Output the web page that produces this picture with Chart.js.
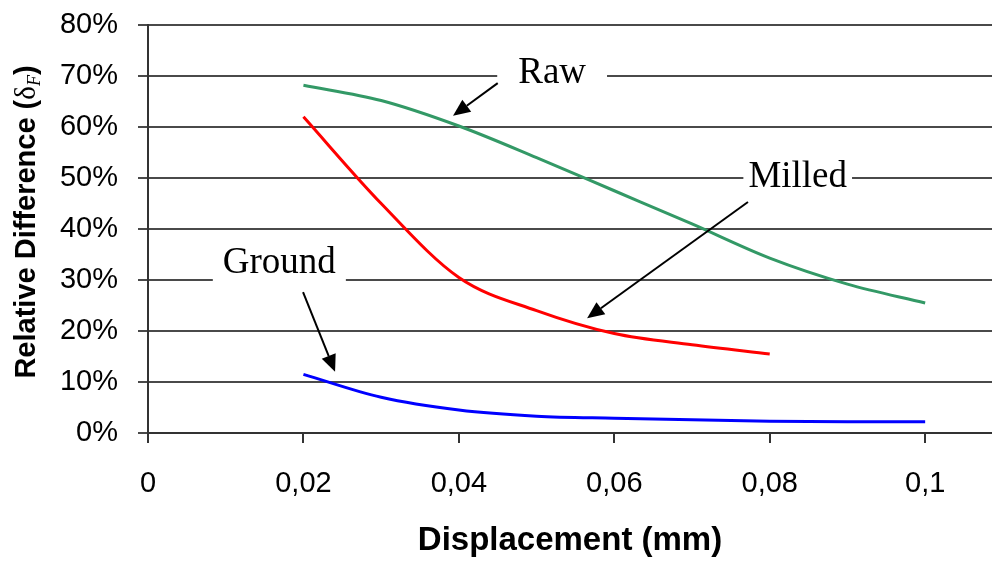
<!DOCTYPE html>
<html>
<head>
<meta charset="utf-8">
<script src="https://cdn.jsdelivr.net/npm/chart.js@4/dist/chart.umd.min.js"></script>
<style>
  html, body { margin: 0; padding: 0; background: #fff; overflow: hidden; }
  canvas { display: block; }
</style>
</head>
<body>
<canvas id="chart" width="992" height="561"></canvas>
<script>
// Displacement (mm) and relative difference (%) for each surface finish
const displacementRaw = [0.02, 0.03, 0.04, 0.05, 0.06, 0.07, 0.08, 0.09, 0.10];
const rawValues       = [68.2, 65.2, 60.2, 54.0, 47.5, 41.0, 34.3, 29.2, 25.5];

const displacementMilled = [0.02, 0.03, 0.04, 0.05, 0.06, 0.07, 0.08];
const milledValues       = [62.0, 45.0, 30.5, 24.0, 19.5, 17.3, 15.5];

const displacementGround = [0.02, 0.03, 0.04, 0.05, 0.06, 0.07, 0.08, 0.09, 0.10];
const groundValues       = [11.5, 7.0, 4.5, 3.3, 2.9, 2.6, 2.3, 2.2, 2.2];

// Axis tick values
const xTickValues = [0, 0.02, 0.04, 0.06, 0.08, 0.10];
const yTickValues = [0, 10, 20, 30, 40, 50, 60, 70, 80];

const toPoints = (xs, ys) => xs.map((x, i) => ({ x: x, y: ys[i] }));

// Callout labels with arrows, placed in data units
const callouts = [
  { text: 'Raw',    x: 0.0520, y: 68.6, pad: 21, from: [0.0450, 68.6], to: [0.03925, 62.2] },
  { text: 'Milled', x: 0.0836, y: 48.2, pad: 5,  from: [0.0772, 45.3], to: [0.0565, 22.5] },
  { text: 'Ground', x: 0.0169, y: 31.4, pad: 10, from: [0.01995, 27.6], to: [0.02407, 12.0] }
];

const calloutPlugin = {
  id: 'callouts',
  afterDatasetsDraw(chart) {
    const { ctx, scales: { x, y } } = chart;
    ctx.save();
    ctx.font = '37px "Liberation Serif", "Times New Roman", serif';
    ctx.textAlign = 'center';
    ctx.textBaseline = 'alphabetic';
    callouts.forEach(c => {
      const px = x.getPixelForValue(c.x);
      const py = y.getPixelForValue(c.y);
      const w = ctx.measureText(c.text).width;
      ctx.fillStyle = '#ffffff';
      ctx.fillRect(px - w / 2 - c.pad, py - 30, w + 2 * c.pad, 40);
      ctx.fillStyle = '#000000';
      ctx.fillText(c.text, px, py);

      const x1 = x.getPixelForValue(c.from[0]), y1 = y.getPixelForValue(c.from[1]);
      const x2 = x.getPixelForValue(c.to[0]),   y2 = y.getPixelForValue(c.to[1]);
      const ang = Math.atan2(y2 - y1, x2 - x1);
      const headLen = 17, headHalf = 7.5;
      const bx = x2 - headLen * Math.cos(ang), by = y2 - headLen * Math.sin(ang);
      ctx.strokeStyle = '#000000';
      ctx.lineWidth = 2;
      ctx.beginPath();
      ctx.moveTo(x1, y1);
      ctx.lineTo(bx, by);
      ctx.stroke();
      ctx.beginPath();
      ctx.moveTo(x2, y2);
      ctx.lineTo(bx + headHalf * Math.sin(ang), by - headHalf * Math.cos(ang));
      ctx.lineTo(bx - headHalf * Math.sin(ang), by + headHalf * Math.cos(ang));
      ctx.closePath();
      ctx.fillStyle = '#000000';
      ctx.fill();
    });
    ctx.restore();
  }
};

// Vertical axis title with the subscripted delta symbol
const yTitlePlugin = {
  id: 'yTitle',
  afterDraw(chart) {
    const { ctx } = chart;
    const parts = [
      { t: 'Relative Difference (', f: 'bold 29px "Liberation Sans", Arial, sans-serif', dy: 0 },
      { t: '\u03B4', f: '29px "Liberation Serif", "Times New Roman", serif', dy: 0 },
      { t: 'F', f: 'italic 18px "Liberation Serif", "Times New Roman", serif', dy: 5 },
      { t: ')', f: 'bold 29px "Liberation Sans", Arial, sans-serif', dy: 0 }
    ];
    ctx.save();
    let total = 0;
    parts.forEach(p => { ctx.font = p.f; p.w = ctx.measureText(p.t).width; total += p.w; });
    ctx.translate(25, 222);
    ctx.rotate(-Math.PI / 2);
    ctx.fillStyle = '#000000';
    ctx.textAlign = 'left';
    ctx.textBaseline = 'alphabetic';
    let cx = -total / 2;
    parts.forEach(p => {
      ctx.font = p.f;
      ctx.fillText(p.t, cx, 10.4 + p.dy);
      cx += p.w;
    });
    ctx.restore();
  }
};

const fmtX = v => {
  const s = String(Number(v.toFixed(2)));
  return s.replace('.', ',');
};

new Chart(document.getElementById('chart'), {
  type: 'line',
  data: {
    datasets: [
      { label: 'Raw',    data: toPoints(displacementRaw, rawValues),       borderColor: '#339966' },
      { label: 'Milled', data: toPoints(displacementMilled, milledValues), borderColor: '#ff0000' },
      { label: 'Ground', data: toPoints(displacementGround, groundValues), borderColor: '#0000ff' }
    ]
  },
  options: {
    responsive: false,
    animation: false,
    devicePixelRatio: 1,
    layout: { padding: { top: 25, left: 0, right: 0, bottom: 0 } },
    elements: {
      line: { borderWidth: 3, cubicInterpolationMode: 'monotone', fill: false },
      point: { radius: 0, hoverRadius: 0 }
    },
    plugins: {
      legend: { display: false },
      tooltip: { enabled: false }
    },
    scales: {
      x: {
        type: 'linear',
        min: 0,
        max: 0.1086,
        afterBuildTicks: s => { s.ticks = xTickValues.map(v => ({ value: v })); },
        afterFit: s => { s.height = 128; s.paddingLeft = 0; s.paddingRight = 0; },
        grid: {
          drawOnChartArea: false,
          drawTicks: true,
          tickLength: 10,
          color: '#333333',
          lineWidth: 2
        },
        border: { display: true, color: '#333333', width: 2 },
        ticks: {
          color: '#000000',
          padding: 24,
          maxRotation: 0,
          autoSkip: false,
          font: { family: '"Liberation Sans", Arial, sans-serif', size: 29 },
          callback: v => fmtX(v)
        },
        title: {
          display: true,
          text: 'Displacement (mm)',
          color: '#000000',
          padding: { top: 0, bottom: 0 },
          font: { family: '"Liberation Sans", Arial, sans-serif', size: 33, weight: 'bold' }
        }
      },
      y: {
        min: 0,
        max: 80,
        afterBuildTicks: s => { s.ticks = yTickValues.map(v => ({ value: v })); },
        afterFit: s => { s.width = 148; s.paddingTop = 0; s.paddingBottom = 0; },
        grid: {
          drawOnChartArea: true,
          drawTicks: true,
          tickLength: 10,
          color: '#4a4a4a',
          lineWidth: 2
        },
        border: { display: true, color: '#333333', width: 2 },
        ticks: {
          color: '#000000',
          padding: 20,
          font: { family: '"Liberation Sans", Arial, sans-serif', size: 29 },
          callback: v => v + '%'
        }
      }
    }
  },
  plugins: [calloutPlugin, yTitlePlugin]
});
</script>
</body>
</html>
